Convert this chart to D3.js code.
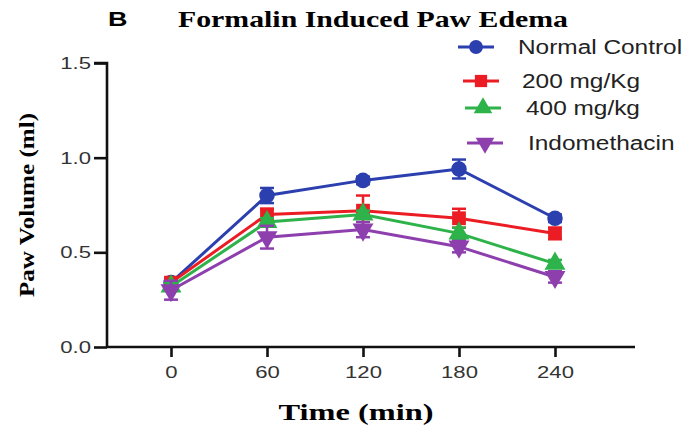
<!DOCTYPE html>
<html lang="en">
<head>
    <meta charset="UTF-8">
    <title>Formalin Induced Paw Edema</title>
    <script src="https://cdnjs.cloudflare.com/ajax/libs/d3/7.8.5/d3.min.js"></script>
    <style>
        body { margin: 0; background: #fff; }
        svg { display: block; }
    </style>
</head>
<body>
    <svg id="chart" width="699" height="427"></svg>

    <script>
        // time points (min)
        const times = [0, 60, 120, 180, 240];
        const yTicks = [0.0, 0.5, 1.0, 1.5];

        const seriesNames = ["Normal Control", "200 mg/Kg", "400 mg/kg", "Indomethacin"];
        const seriesColors = ["#2b3fae", "#ec1c24", "#2db34a", "#8e3fae"];
        const seriesSymbols = ["circle", "square", "triangle", "triangleDown"];

        const normalMean = [0.34, 0.80, 0.88, 0.94, 0.68];
        const normalErr = [0.02, 0.04, 0.02, 0.05, 0.02];
        const dose200Mean = [0.34, 0.70, 0.72, 0.68, 0.60];
        const dose200Err = [0.02, 0.03, 0.08, 0.05, 0.03];
        const dose400Mean = [0.32, 0.66, 0.70, 0.60, 0.44];
        const dose400Err = [0.02, 0.02, 0.02, 0.03, 0.02];
        const indoMean = [0.30, 0.58, 0.62, 0.53, 0.37];
        const indoErr = [0.05, 0.06, 0.04, 0.03, 0.03];

        const means = [normalMean, dose200Mean, dose400Mean, indoMean];
        const errs = [normalErr, dose200Err, dose400Err, indoErr];

        const SANS = "Liberation Sans, Arial, sans-serif";
        const SERIF = "Liberation Serif, Times New Roman, serif";

        const svg = d3.select("#chart");
        const x = d3.scaleLinear().domain([-40, 290]).range([107, 635]);
        const y = d3.scaleLinear().domain([0, 1.5]).range([347, 63]);

        // the source image is stretched sideways, so widen text to match
        function stretch(sel, k) {
            sel.each(function () {
                const w = this.getComputedTextLength();
                d3.select(this).attr("textLength", w * k).attr("lengthAdjust", "spacingAndGlyphs");
            });
        }

        // title
        svg.append("text").attr("x", 108).attr("y", 26)
            .attr("font-family", SANS).attr("font-weight", "bold").attr("font-size", 20)
            .text("B").call(stretch, 1.35);
        svg.append("text").attr("x", 178).attr("y", 27)
            .attr("font-family", SERIF).attr("font-weight", "bold").attr("font-size", 23)
            .attr("textLength", 390).attr("lengthAdjust", "spacingAndGlyphs")
            .text("Formalin Induced Paw Edema");

        // axes
        const yAxis = svg.append("g").attr("transform", "translate(107,0)")
            .call(d3.axisLeft(y).tickValues(yTicks).tickFormat(d3.format(".1f")).tickSize(13).tickPadding(3));
        const xAxis = svg.append("g").attr("transform", "translate(0,347)")
            .call(d3.axisBottom(x).tickValues(times).tickSize(10).tickPadding(9));

        [yAxis, xAxis].forEach(g => {
            g.select(".domain").attr("stroke", "#111").attr("stroke-width", 2.6);
            g.selectAll(".tick line").attr("stroke", "#111").attr("stroke-width", 2.6);
            g.selectAll(".tick text").attr("fill", "#333")
                .attr("font-family", SANS).attr("font-size", 17)
                .call(stretch, 1.3);
        });
        yAxis.select(".domain").attr("d", "M-13,63H0V347");
        xAxis.select(".domain").attr("d", "M107,0H635");

        // axis labels
        svg.append("text").attr("transform", "translate(34,205) rotate(-90)")
            .attr("text-anchor", "middle")
            .attr("font-family", SERIF).attr("font-weight", "bold").attr("font-size", 21)
            .attr("textLength", 184).attr("lengthAdjust", "spacingAndGlyphs")
            .text("Paw Volume (ml)");
        svg.append("text").attr("x", 356).attr("y", 420).attr("text-anchor", "middle")
            .attr("font-family", SERIF).attr("font-weight", "bold").attr("font-size", 23)
            .attr("textLength", 155).attr("lengthAdjust", "spacingAndGlyphs")
            .text("Time (min)");

        function symbolPath(kind, size) {
            const map = { circle: d3.symbolCircle, square: d3.symbolSquare,
                          triangle: d3.symbolTriangle, triangleDown: d3.symbolTriangle };
            return d3.symbol(map[kind], size)();
        }

        const line = d3.line().x(d => x(d[0])).y(d => y(d[1]));

        means.forEach((vals, i) => {
            const color = seriesColors[i];
            const pts = times.map((t, j) => [t, vals[j], errs[i][j]]);
            const g = svg.append("g");

            // error bars
            pts.forEach(p => {
                g.append("line").attr("x1", x(p[0])).attr("x2", x(p[0]))
                    .attr("y1", y(p[1] - p[2])).attr("y2", y(p[1] + p[2]))
                    .attr("stroke", color).attr("stroke-width", 2.5);
                [p[1] - p[2], p[1] + p[2]].forEach(v => {
                    g.append("line").attr("x1", x(p[0]) - 7).attr("x2", x(p[0]) + 7)
                        .attr("y1", y(v)).attr("y2", y(v))
                        .attr("stroke", color).attr("stroke-width", 2.5);
                });
            });

            g.append("path").datum(pts).attr("d", line)
                .attr("fill", "none").attr("stroke", color).attr("stroke-width", 3);

            pts.forEach(p => {
                const rot = seriesSymbols[i] === "triangleDown" ? " rotate(180)" : "";
                g.append("path").attr("d", symbolPath(seriesSymbols[i], 190))
                    .attr("transform", `translate(${x(p[0])},${y(p[1])})${rot}`)
                    .attr("fill", color);
            });
        });

        // legend
        const legendY = [47, 81, 108, 143];
        const legendX0 = [458, 463, 465, 467];
        const legendTextX = [518, 522, 526, 528];
        seriesNames.forEach((name, i) => {
            const color = seriesColors[i];
            const cx = legendX0[i] + 18;
            svg.append("line").attr("x1", legendX0[i]).attr("x2", legendX0[i] + 36)
                .attr("y1", legendY[i]).attr("y2", legendY[i])
                .attr("stroke", color).attr("stroke-width", 3);
            const rot = seriesSymbols[i] === "triangleDown" ? " rotate(180)" : "";
            svg.append("path").attr("d", symbolPath(seriesSymbols[i], 150))
                .attr("transform", `translate(${cx},${legendY[i]})${rot}`)
                .attr("fill", color);
            svg.append("text").attr("x", legendTextX[i]).attr("y", legendY[i] + 7)
                .attr("font-family", SANS).attr("font-size", 20).attr("fill", "#222")
                .text(name).call(stretch, 1.22);
        });
    </script>
</body>
</html>
